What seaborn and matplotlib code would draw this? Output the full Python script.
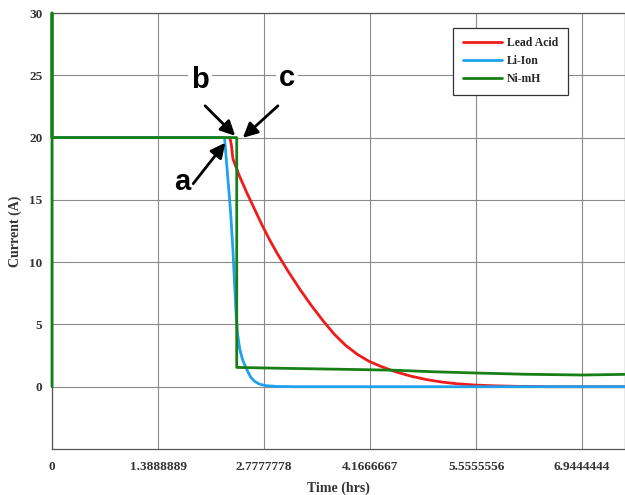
import matplotlib
matplotlib.use("Agg")
import matplotlib.pyplot as plt
import pandas as pd
import seaborn as sns

# time in hours, current in amps
lead_t = [2.33, 2.35, 2.37, 2.45, 2.55, 2.65, 2.75, 2.85, 2.95, 3.1, 3.25, 3.4, 3.55,
          3.7, 3.85, 4.0, 4.15, 4.3, 4.5, 4.7, 4.9, 5.1, 5.3, 5.55, 5.8, 6.1, 6.5, 7.5]
lead_i = [20.0, 19.4, 18.3, 17.0, 15.6, 14.3, 13.0, 11.8, 10.7, 9.2, 7.8, 6.5, 5.3,
          4.2, 3.3, 2.6, 2.05, 1.65, 1.2, 0.85, 0.58, 0.38, 0.24, 0.13, 0.07, 0.03, 0.0, 0.0]

li_t = [0.0, 2.26, 2.30, 2.34, 2.37, 2.39, 2.41, 2.43, 2.46, 2.50, 2.55, 2.60, 2.65,
        2.72, 2.81, 2.95, 3.2, 7.5]
li_i = [20.0, 20.0, 17.0, 14.0, 11.0, 8.5, 6.0, 4.3, 3.0, 2.1, 1.4, 0.8, 0.45,
        0.2, 0.08, 0.02, 0.0, 0.0]

ni_t = [0.0, 0.0, 0.0, 2.42, 2.42, 3.0, 3.5, 4.17, 4.5, 5.0, 5.56, 6.2, 6.94, 7.5]
ni_i = [0.0, 30.0, 20.0, 20.0, 1.55, 1.48, 1.43, 1.36, 1.32, 1.2, 1.1, 1.0, 0.94, 0.99]

series_names = ["Lead Acid", "Li-Ion", "Ni-mH"]
colors = ["#ee1c1c", "#1fa2ee", "#168016"]

x_ticks = [0, 1.3888889, 2.7777778, 4.1666667, 5.5555556, 6.9444444]
x_tick_labels = ["0", "1.3888889", "2.7777778", "4.1666667", "5.5555556", "6.9444444"]
y_ticks = [0, 5, 10, 15, 20, 25, 30]

labels = ["a", "b", "c"]
label_xy = [(1.70, 16.4), (1.94, 24.6), (3.08, 24.8)]
arrow_from = [(1.85, 16.3), (2.005, 22.55), (2.96, 22.55)]
arrow_to = [(2.27, 19.58), (2.40, 20.14), (2.50, 19.98)]

df = pd.concat([
    pd.DataFrame({"t": lead_t, "i": lead_i, "battery": "Lead Acid"}),
    pd.DataFrame({"t": li_t, "i": li_i, "battery": "Li-Ion"}),
    pd.DataFrame({"t": ni_t, "i": ni_i, "battery": "Ni-mH"}),
], ignore_index=True)

sns.set_theme(style="whitegrid")
plt.rcParams["font.family"] = ["Liberation Serif", "DejaVu Serif"]

fig = plt.figure(figsize=(6.25, 4.95), dpi=100)
ax = fig.add_axes([52 / 625, 1 - 449 / 495, (624.5 - 52) / 625, (449 - 13) / 495])

sns.lineplot(data=df, x="t", y="i", hue="battery", hue_order=series_names,
             palette=dict(zip(series_names, colors)), sort=False, estimator=None,
             units="battery", linewidth=2.0, ax=ax, legend=False)
for ln in ax.get_lines():
    ln.set_zorder(3)
    ln.set_clip_on(False)

ax.set_xlim(0, 7.5)
ax.set_ylim(-5, 30)
ax.set_xticks(x_ticks)
ax.set_xticklabels(x_tick_labels)
ax.set_yticks(y_ticks)
ax.tick_params(axis="both", labelsize=9.5, colors="#444444", direction="out",
               length=4, width=0.8)
ax.tick_params(axis="x", pad=5)
ax.tick_params(axis="y", pad=3)
for lab in ax.get_xticklabels() + ax.get_yticklabels():
    lab.set_fontweight("bold")
    lab.set_color("#333333")

ax.grid(True, color="#8a8a8a", linewidth=0.8)
ax.set_facecolor("white")
for side in ["left", "bottom", "top", "right"]:
    ax.spines[side].set_color("#555555")
    ax.spines[side].set_linewidth(0.9)

ax.set_xlabel("Time (hrs)", fontsize=10, fontweight="bold", color="#333333", labelpad=6)
ax.set_ylabel("Current (A)", fontsize=10, fontweight="bold", color="#333333", labelpad=5)

handles = [plt.Line2D([], [], color=c, linewidth=2.0) for c in colors]
leg = ax.legend(handles, series_names, loc="upper right", bbox_to_anchor=(0.901, 0.966),
                prop={"family": "Liberation Serif", "weight": "bold", "size": 8.5},
                handlelength=3.3, handletextpad=0.45, frameon=True, fancybox=False,
                framealpha=1, edgecolor="#333333", borderpad=0.8, labelspacing=0.5,
                borderaxespad=0)
leg.get_frame().set_linewidth(0.9)

for lab, xy, src, dst in zip(labels, label_xy, arrow_from, arrow_to):
    ax.text(xy[0], xy[1], lab, fontsize=21, fontweight="bold", ha="center", va="center",
            family="Liberation Sans", color="black", zorder=5,
            bbox=dict(facecolor="white", edgecolor="none", pad=2))
    ax.annotate("", xy=dst, xytext=src, zorder=5,
                arrowprops=dict(arrowstyle="-|>", color="black", lw=2.0,
                                mutation_scale=22, shrinkA=0, shrinkB=0))

fig.savefig("out.png", dpi=100)
